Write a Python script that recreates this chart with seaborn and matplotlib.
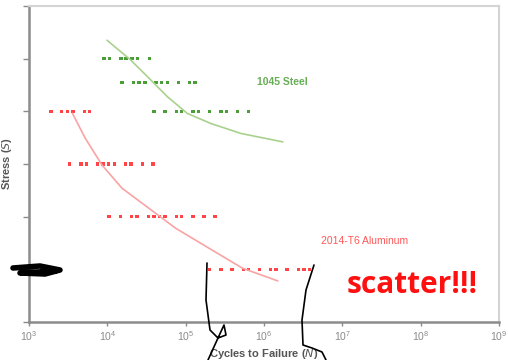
import numpy as np
import pandas as pd
import seaborn as sns
import matplotlib.pyplot as plt
from matplotlib.lines import Line2D

# fatigue data (cycles to failure, stress level)
steel_n = [9080, 10600, 15000, 17400, 20700, 24400, 34300,
           15400, 21700, 25500, 30100, 41600, 49200, 58200, 80500, 111000, 132000,
           39300, 54300, 76000, 88900, 124000, 146000, 203000, 281000, 333000, 460000, 637000]
steel_s = [5.0] * 7 + [4.55] * 10 + [4.0] * 11

alu_n = [1900, 2620, 3100, 3630, 5070, 5930,
         3290, 4600, 5380, 7520, 8810, 10400, 12300, 17000, 20100, 27900, 38500,
         10500, 14700, 20300, 24000, 33300, 39300, 46500, 54300, 76000, 88900, 124000, 172000, 238000,
         203000, 281000, 389000, 543000, 637000, 883000, 1210000, 1430000, 1970000, 2750000, 3230000, 3810000]
alu_s = [4.0] * 6 + [3.0] * 11 + [2.0] * 13 + [1.0] * 12

# fitted S-N curves
steel_fit_n = [9900, 19700, 35600, 58200, 105000, 209000, 507000, 1740000]
steel_fit_s = [5.35, 4.98, 4.60, 4.28, 3.96, 3.77, 3.58, 3.42]
alu_fit_n = [3590, 5220, 8550, 15400, 33900, 74500, 199000, 533000, 1500000]
alu_fit_s = [3.96, 3.49, 2.98, 2.54, 2.16, 1.78, 1.40, 1.02, 0.78]

green, green_line = '#4c9f38', '#a9d18e'
red, red_line = '#ff4545', '#f9a3a3'

pts = pd.DataFrame({
    'cycles': steel_n + alu_n,
    'stress': steel_s + alu_s,
    'material': ['1045 Steel'] * len(steel_n) + ['2014-T6 Aluminum'] * len(alu_n),
})
fits = pd.DataFrame({
    'cycles': steel_fit_n + alu_fit_n,
    'stress': steel_fit_s + alu_fit_s,
    'material': ['1045 Steel'] * len(steel_fit_n) + ['2014-T6 Aluminum'] * len(alu_fit_n),
})

sns.set_theme(style='white')
plt.rcParams['font.family'] = ['Liberation Sans', 'DejaVu Sans']

fig = plt.figure(figsize=(5.08, 3.6), dpi=100)
ax = fig.add_axes([29 / 508, 38 / 360, 470 / 508, 316 / 360])

sns.lineplot(data=fits, x='cycles', y='stress', hue='material', sort=False,
             palette={'1045 Steel': green_line, '2014-T6 Aluminum': red_line},
             lw=1.2, legend=False, ax=ax)
sns.scatterplot(data=pts, x='cycles', y='stress', hue='material',
                palette={'1045 Steel': green, '2014-T6 Aluminum': red},
                s=6, marker='s', linewidth=0, legend=False, ax=ax)

ax.set_xscale('log')
ax.set_xlim(1e3, 1e9)
ax.set_ylim(0, 6)
ax.set_xticks([10 ** k for k in range(3, 10)])
ax.xaxis.set_minor_locator(plt.NullLocator())
ax.set_yticks(range(0, 7))
ax.set_yticklabels([])
ax.tick_params(axis='x', colors='#8a8a8a', labelsize=7.5, length=3, width=1, pad=2, direction='out', bottom=True)
ax.tick_params(axis='y', colors='#8a8a8a', length=4, width=1, direction='out', left=True)
for s in ['left', 'bottom']:
    ax.spines[s].set_color('#8c8c8c')
    ax.spines[s].set_linewidth(1.8)
for s in ['top', 'right']:
    ax.spines[s].set_color('#d4d4d4')
    ax.spines[s].set_linewidth(1.5)

ax.set_xlabel('Cycles to Failure ($\\it{N}$)', fontsize=8, fontweight='bold', color='#555555', labelpad=3)
ax.set_ylabel('Stress ($\\it{S}$)', fontsize=8, fontweight='bold', color='#555555')
ax.yaxis.set_label_coords(-15 / 470, 0.5)

ax.text(8.1e5, 4.55, '1045 Steel', color=green, fontsize=7.5, fontweight='bold', alpha=0.85, va='center')
ax.text(5.4e6, 1.54, '2014-T6 Aluminum', color=red, fontsize=7.5, alpha=0.9, va='center')
ax.text(1.12e7, 0.7, 'scatter!!!', color='#ff1010', fontsize=21.5, fontweight='bold',
        family='Open Sans', va='center')

# hand-drawn marks on the original
def stroke(xs, ys, lw):
    fig.add_artist(Line2D(np.array(xs) / 508, 1 - np.array(ys) / 360, color='black', lw=lw,
                          solid_capstyle='round', transform=fig.transFigure))

stroke([13, 40, 60, 45, 20, 55], [268, 266, 270, 274, 273, 271], 4)
stroke([207, 206, 210, 218, 226, 224, 218, 208], [263, 300, 330, 338, 335, 325, 338, 360], 1.2)
stroke([314, 306, 302, 303, 312, 322, 326], [265, 290, 320, 345, 348, 352, 360], 1.2)

fig.savefig('out.png', dpi=100)
